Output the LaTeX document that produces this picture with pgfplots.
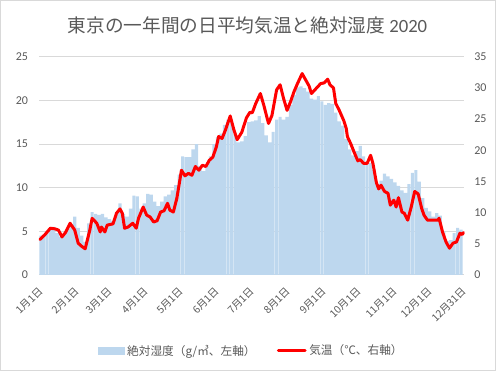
\documentclass[border=0pt]{standalone}
\usepackage{pgfplots}
\pgfplotsset{compat=1.18}
\usepackage{pgfplotstable}
\usepackage{fontspec}
\setmainfont{Carlito}
\newfontfamily\jp{Noto Sans CJK JP}
\definecolor{barblue}{HTML}{BDD7EE}
\definecolor{textgray}{HTML}{595959}
\definecolor{gridgray}{HTML}{D9D9D9}
\definecolor{framegray}{HTML}{D9D9D9}

\pgfplotstableread{
day hum
0 4.5
3 4.6
6 5.0
9 5.4
12 5.5
15 4.8
18 4.4
21 4.6
24 5.3
27 5.8
30 6.7
33 5.4
36 4.5
39 3.8
42 5.9
45 7.2
48 7.0
51 6.9
54 7.0
57 6.6
60 6.4
63 6.2
66 7.2
69 8.2
72 7.0
75 6.7
78 7.6
81 9.1
84 9.0
87 7.6
90 8.2
93 9.3
96 9.2
99 8.4
102 7.9
105 8.4
108 9.0
111 9.2
114 9.7
117 10.3
120 11.5
123 13.6
126 13.5
129 13.5
132 14.4
135 15.0
138 12.5
141 11.9
144 12.6
147 13.6
150 15.0
153 15.8
156 16.2
159 17.2
162 17.8
165 17.6
168 16.2
171 15.2
174 15.3
177 15.9
180 17.5
183 17.6
186 17.7
189 18.2
192 17.4
195 16.0
198 15.2
201 16.4
204 17.8
207 18.1
210 17.8
213 18.1
216 19.5
219 20.6
222 21.5
225 21.6
228 21.4
231 21.0
234 20.2
237 20.1
240 20.5
243 19.9
246 19.5
249 19.7
252 19.6
255 18.6
258 17.6
261 17.1
264 15.6
267 14.4
270 13.7
273 14.2
276 14.8
279 13.6
282 13.0
285 12.8
288 12.0
291 10.4
294 10.8
297 11.6
300 11.3
303 11.0
306 10.6
309 10.2
312 9.7
315 9.4
318 10.4
321 11.7
324 12.0
327 10.7
330 8.8
333 7.7
336 7.3
339 6.7
342 7.1
345 6.8
348 5.0
351 3.9
354 4.0
357 4.8
360 5.4
363 5.2
}\humtable

\pgfplotstableread{
day temp
0 5.7
4 6.4
9 7.5
13 7.4
16 7.2
19 6.1
22 6.8
26 8.3
30 7.2
33 5.1
36 4.6
39 4.2
43 7.2
45 9.1
49 8.3
52 6.9
53 7.7
56 6.9
58 8.0
63 8.2
66 9.9
69 10.6
71 9.9
73 7.5
76 7.7
80 8.3
83 7.5
85 9.1
89 10.9
92 9.6
95 9.3
98 8.5
101 8.7
104 10.1
107 10.3
110 11.5
112 10.4
115 10.1
118 12.3
122 16.8
125 15.9
128 16.3
131 16.0
134 17.4
137 16.8
140 17.6
143 17.4
146 18.4
149 18.9
152 20.5
154 22.2
157 21.9
160 23.3
164 25.5
167 23.4
170 21.7
174 22.9
178 25.2
181 26.1
183 26.0
186 27.5
190 29.1
193 27.2
197 24.3
200 25.6
204 29.7
207 30.5
210 28.3
213 26.4
216 27.8
219 29.4
222 30.7
226 32.3
229 31.3
232 30.3
234 29.1
238 29.9
242 30.7
245 30.8
248 31.4
250 30.5
253 30.0
255 27.5
258 26.4
262 24.7
264 23.5
265 22.2
268 21.0
271 19.6
274 18.3
276 18.5
279 17.9
282 17.9
285 19.2
287 17.9
290 14.8
292 13.8
294 14.4
297 13.4
300 13.1
302 11.2
305 12.0
307 10.9
309 12.4
312 10.1
314 9.9
317 8.8
320 10.9
323 13.4
326 13.0
329 10.7
331 9.6
334 8.8
337 8.8
340 8.8
343 8.8
344 9.1
347 6.9
350 5.3
353 4.3
356 5.1
359 5.3
362 6.7
364 6.5
365 6.8
}\temptable

\begin{document}
\begin{tikzpicture}
\useasboundingbox (0,0) rectangle (372pt,278.25pt);
\draw[framegray, line width=0.75pt] (0.375pt,0.375pt) rectangle (371.625pt,277.875pt);
\node[text=textgray, font=\fontsize{14}{17}\selectfont] at (185.6pt,259.5pt) {{\jp 東京の一年間の日平均気温と絶対湿度} 2020};

\begin{axis}[
  at={(29.5pt,72pt)}, anchor=south west,
  scale only axis, width=318.5pt, height=163.7pt,
  xmin=-0.5, xmax=365.5, ymin=0, ymax=25,
  ytick={0,5,...,25},
  xtick={0,31,60,91,121,152,182,213,244,274,305,335,365},
  xticklabels={1月1日,2月1日,3月1日,4月1日,5月1日,6月1日,7月1日,8月1日,9月1日,10月1日,11月1日,12月1日,12月31日},
  x tick label style={xshift=-1.5pt, yshift=-8pt, rotate=45, anchor=north east, inner sep=0pt, font=\fontsize{7.75}{9}\selectfont\jp, text=textgray},
  y tick label style={anchor=east, inner sep=0pt, xshift=-8.25pt, font=\fontsize{9}{11}\selectfont, text=textgray},
  /pgf/number format/assume math mode=true,
  ymajorgrids, grid style={gridgray, line width=0.75pt},
  axis line style={draw=none},
  major tick length=0pt,
]
\addplot[ybar, bar width=2.75, bar shift=0pt, fill=barblue, draw=none] table[x=day, y=hum] {\humtable};
\end{axis}

\begin{axis}[
  at={(29.5pt,72pt)}, anchor=south west,
  scale only axis, width=318.5pt, height=163.7pt,
  xmin=-0.5, xmax=365.5, ymin=0, ymax=35,
  ytick={0,5,...,35},
  axis y line*=right, axis x line=none,
  y tick label style={anchor=west, inner sep=0pt, xshift=7.5pt, font=\fontsize{9}{11}\selectfont, text=textgray},
  /pgf/number format/assume math mode=true,
  axis line style={draw=none},
  major tick length=0pt,
  clip=false,
  legend columns=2,
  legend style={at={(0.5,-0.348)}, anchor=center, draw=none, fill=none,
    font=\fontsize{8.75}{11}\selectfont\jp, text=textgray,
    /tikz/every even column/.append style={column sep=14pt}},
]
\addlegendimage{legend image code/.code={\fill[barblue] (0pt,-2.75pt) rectangle (19.5pt,2.75pt);}}
\addlegendentry{絶対湿度（g/㎥、左軸）}
\addplot[red, line width=2.25pt, line join=round, line cap=round,
  legend image code/.code={\draw[red, line width=2.25pt] (0pt,0pt) -- (20pt,0pt);}]
  table[x=day, y=temp] {\temptable};
\addlegendentry{気温（℃、右軸）}
\end{axis}
\end{tikzpicture}
\end{document}
